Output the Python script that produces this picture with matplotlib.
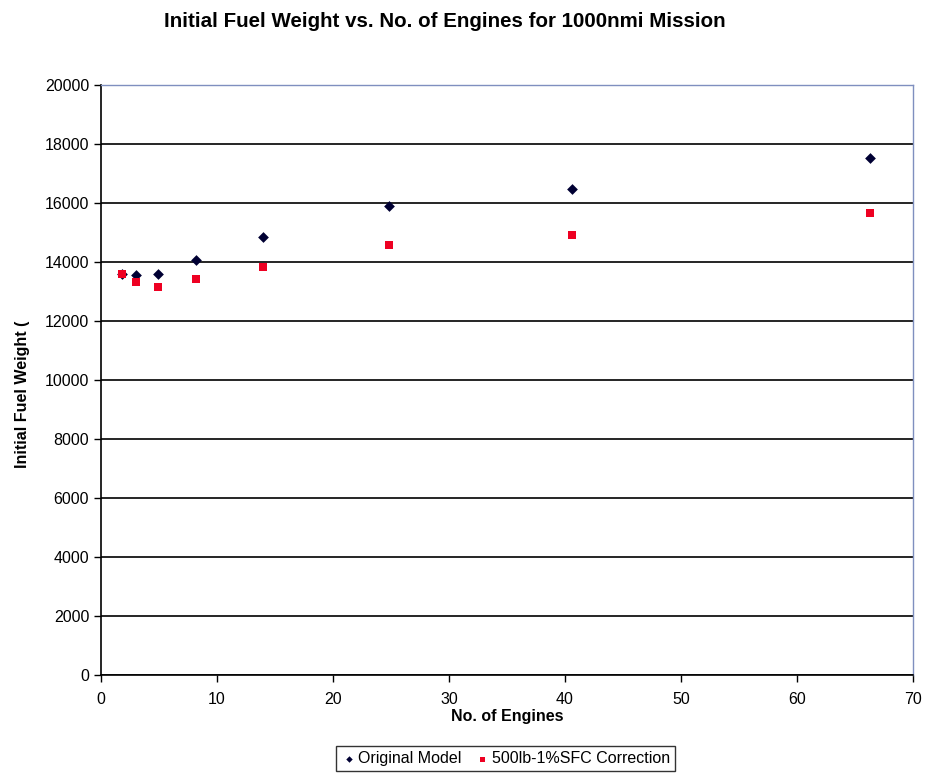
import matplotlib
matplotlib.use("Agg")
import matplotlib.pyplot as plt
from matplotlib.ticker import MultipleLocator

plt.rcParams['font.family'] = ['Liberation Sans', 'DejaVu Sans']

engines = [1.8, 3.0, 4.9, 8.2, 14.0, 24.8, 40.6, 66.3]
original_model = [13590, 13560, 13600, 14080, 14850, 15910, 16480, 17510]
corrected = [13580, 13310, 13140, 13410, 13820, 14570, 14930, 15660]
series_names = ["Original Model", "500lb-1%SFC Correction"]

fig = plt.figure(figsize=(9.28, 7.76), dpi=100)
ax = fig.add_axes([0.1088, 0.1302, 0.8750, 0.7603])

ax.scatter(engines, original_model, marker='D', s=30, color='#000033',
           label=series_names[0], zorder=3, linewidths=0)
ax.scatter(engines, corrected, marker='s', s=36, color='#ee0022',
           label=series_names[1], zorder=3, linewidths=0)

ax.set_xlim(0, 70)
ax.set_ylim(0, 20000)
ax.xaxis.set_major_locator(MultipleLocator(10))
ax.yaxis.set_major_locator(MultipleLocator(2000))
ax.grid(axis='y', color='black', linewidth=1.2, zorder=1)
ax.set_axisbelow(True)

for side in ['left', 'bottom']:
    ax.spines[side].set_color('black')
    ax.spines[side].set_linewidth(1.2)
for side in ['top', 'right']:
    ax.spines[side].set_color('#7f8fbf')
    ax.spines[side].set_linewidth(1.0)

ax.tick_params(axis='both', direction='out', length=5, width=1, labelsize=11.5, colors='black')
ax.tick_params(axis='x', pad=7)

ax.set_xlabel("No. of Engines", fontsize=11.5, fontweight='bold', labelpad=2)
ax.set_ylabel("Initial Fuel Weight (", fontsize=11.5, fontweight='bold')
ax.yaxis.set_label_coords(-0.088, 0.475)
fig.text(0.479, 0.972, "Initial Fuel Weight vs. No. of Engines for 1000nmi Mission",
         ha='center', va='center', fontsize=14.8, fontweight='bold')

leg = ax.legend(loc='upper center', bbox_to_anchor=(0.498, -0.107), ncol=2,
                frameon=True, fancybox=False, edgecolor='black', fontsize=11.5,
                handletextpad=0.1, columnspacing=0.8, markerscale=0.6,
                borderpad=0.3, handlelength=1.0)
leg.get_frame().set_linewidth(1.0)

fig.savefig("out.png", dpi=100)
